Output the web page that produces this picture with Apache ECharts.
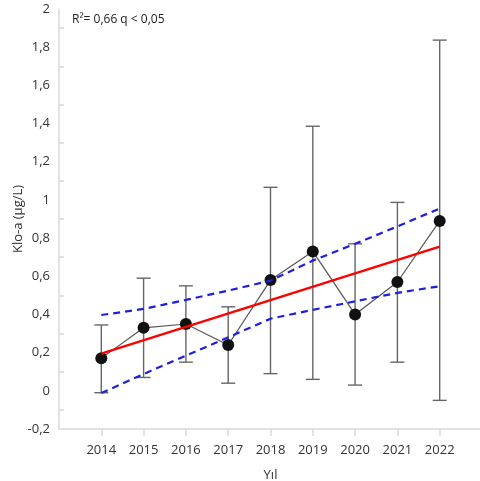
<!DOCTYPE html>
<html>
<head>
<meta charset="utf-8">
<script src="https://cdn.jsdelivr.net/npm/echarts@6/dist/echarts.min.js"></script>
<style>
  html, body { margin: 0; padding: 0; background: #fff; }
  #chart { width: 480px; height: 481px; }
</style>
</head>
<body>
<div id="chart"></div>
<script>
const years = [2014, 2015, 2016, 2017, 2018, 2019, 2020, 2021, 2022]
const means = [0.17, 0.33, 0.35, 0.24, 0.58, 0.73, 0.40, 0.57, 0.89]
const errLow = [-0.01, 0.07, 0.15, 0.04, 0.09, 0.06, 0.03, 0.15, -0.05]
const errHigh = [0.345, 0.59, 0.55, 0.44, 1.066, 1.386, 0.77, 0.987, 1.837]
const fitLine = [0.195, 0.755] // first and last year
const upperBand = [0.397, 0.429, 0.476, 0.525, 0.577, 0.682, 0.77, 0.861, 0.955]
const lowerBand = [-0.012, 0.088, 0.184, 0.28, 0.378, 0.424, 0.469, 0.513, 0.548]
const statText = 'R²= 0,66 q < 0,05'

const textColor = '#333'
const axisColor = '#d9d9d9'
const font = 'Open Sans'

const chart = echarts.init(document.getElementById('chart'), null, { renderer: 'canvas' })

const pairs = (ys) => years.map((y, i) => [y, ys[i]])
const bandStyle = {
  color: '#1f1fe0',
  width: 2.2,
  type: [7, 5]
}

chart.setOption({
  animation: false,
  textStyle: { fontFamily: font },
  grid: {
    left: 59,
    right: -2,
    top: 9,
    bottom: 52,
    outerBoundsMode: 'none'
  },
  graphic: [
    {
      type: 'text',
      left: 72,
      top: 14,
      style: {
        text: statText,
        fontFamily: font,
        fontSize: 12,
        fill: '#222'
      }
    }
  ],
  xAxis: {
    type: 'value',
    min: 2013,
    max: 2023,
    interval: 1,
    name: 'Yıl',
    nameLocation: 'middle',
    nameGap: 40,
    nameMoveOverlap: false,
    nameTextStyle: { color: textColor, fontSize: 13, fontFamily: font },
    axisLine: { onZero: false, lineStyle: { color: axisColor, width: 1.5 } },
    axisTick: { show: true, length: 7, customValues: years, lineStyle: { color: axisColor, width: 1.5 } },
    axisLabel: {
      customValues: years,
      color: textColor,
      fontSize: 13,
      margin: 15,
      formatter: (v) => String(v)
    },
    splitLine: { show: false }
  },
  yAxis: {
    type: 'value',
    min: -0.2,
    max: 2,
    interval: 0.2,
    name: 'Klo-a (µg/L)',
    nameLocation: 'middle',
    nameGap: 34,
    nameMoveOverlap: false,
    nameTextStyle: { color: textColor, fontSize: 13, fontFamily: font },
    axisLine: { show: true, lineStyle: { color: axisColor, width: 1.5 } },
    axisTick: { show: false, inside: true },
    minorTick: { show: true, splitNumber: 2, length: 5, lineStyle: { color: axisColor, width: 1.5 } },
    axisLabel: {
      color: textColor,
      fontSize: 13,
      margin: 9,
      formatter: (v) => String(Math.round(v * 10) / 10).replace('.', ',')
    },
    splitLine: { show: false }
  },
  series: [
    {
      // error bars
      type: 'custom',
      z: 1,
      data: years.map((y, i) => [y, errLow[i], errHigh[i]]),
      renderItem(params, api) {
        const x = api.value(0)
        const lo = api.coord([x, api.value(1)])
        const hi = api.coord([x, api.value(2)])
        const w = 7
        const style = { stroke: '#666', lineWidth: 1.4 }
        return {
          type: 'group',
          children: [
            { type: 'line', shape: { x1: lo[0], y1: lo[1], x2: hi[0], y2: hi[1] }, style },
            { type: 'line', shape: { x1: lo[0] - w, y1: lo[1], x2: lo[0] + w, y2: lo[1] }, style },
            { type: 'line', shape: { x1: hi[0] - w, y1: hi[1], x2: hi[0] + w, y2: hi[1] }, style }
          ]
        }
      }
    },
    {
      type: 'line',
      z: 2,
      data: pairs(means),
      symbol: 'circle',
      symbolSize: 12,
      itemStyle: { color: '#111' },
      lineStyle: { color: '#555', width: 1.2 }
    },
    {
      type: 'line',
      z: 3,
      data: [[years[0], fitLine[0]], [years[years.length - 1], fitLine[1]]],
      symbol: 'none',
      lineStyle: { color: '#ff0000', width: 2.5 }
    },
    {
      type: 'line',
      z: 4,
      data: pairs(upperBand),
      symbol: 'none',
      lineStyle: bandStyle
    },
    {
      type: 'line',
      z: 4,
      data: pairs(lowerBand),
      symbol: 'none',
      lineStyle: bandStyle
    }
  ]
})
</script>
</body>
</html>
